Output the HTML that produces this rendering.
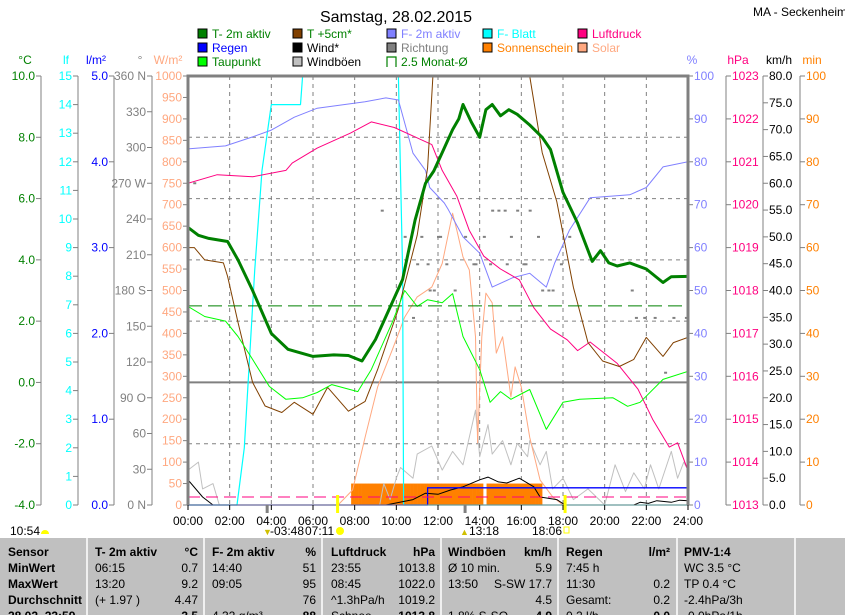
<!DOCTYPE html>
<html><head><meta charset="utf-8"><style>
html,body{margin:0;padding:0;background:#fff;width:845px;height:615px;overflow:hidden}
svg{display:block;font-family:"Liberation Sans",sans-serif}
.tb{font-family:"Liberation Sans",sans-serif;font-size:12px;fill:#000}
.b{font-weight:bold}
</style></head><body>
<svg id="chart" width="845" height="615" viewBox="0 0 845 615">
<defs><clipPath id="pc"><rect x="188" y="76" width="500" height="430"/></clipPath></defs>
<text x="396" y="22" font-size="16" text-anchor="middle">Samstag, 28.02.2015</text>
<text x="753" y="16" font-size="12">MA - Seckenheim</text>
<g id="legend"></g>
<g id="axes"></g>
<g id="grid"></g>
<g id="series" clip-path="url(#pc)"></g>
<g id="frame"></g>
<g id="xaxis"></g>
<g id="table"></g>
</svg>
<script>
// ---- data (time in hours) ----
const t2mTimes=[0,0.5,1,1.9,2.4,3.1,4.0,4.8,6.0,7.0,7.7,8.35,9.0,9.5,10.3,10.9,11.4,11.8,12.2,12.7,13.0,13.2,13.6,14.0,14.3,14.6,15.0,15.4,15.8,16.4,17.0,17.4,18.0,18.7,19.4,19.8,20.2,20.6,21.2,22.0,22.8,23.2,24];
const t2mVals=[5.06,4.8,4.7,4.6,4.0,3.0,1.6,1.08,0.85,0.9,0.88,0.7,1.4,2.15,3.36,5.3,6.5,6.9,7.5,8.25,8.6,9.07,8.5,8.0,8.9,9.07,8.7,8.9,8.75,8.4,8.0,7.6,6.2,5.2,3.95,4.3,3.9,3.8,3.9,3.7,3.26,3.45,3.46];
const t5Times=[0,0.3,0.8,1.7,1.9,2.4,3.1,3.7,4.5,5.1,6.0,6.7,7.7,8.5,9.1,10.1,11.0,11.5,11.8,12.5,14,16,16.4,17.0,17.7,18.5,19.2,19.9,20.7,21.4,22.0,22.8,23.3,24];
const t5Vals=[4.4,4.4,4.0,3.9,3.46,1.96,0,-0.77,-0.98,-0.65,-1.04,-0.16,-0.94,-0.62,0.42,2.4,4.8,7.0,10.5,13,14,13,10,7.5,5.9,3.1,1.3,0.7,0.52,0.75,1.47,0.85,1.3,1.47];
const dewTimes=[0,0.8,1.8,2.4,3.1,3.9,4.7,5.5,6.2,6.9,8.15,8.8,9.8,10.4,11.0,11.5,12.2,12.7,13.2,14.0,14.5,15.0,15.5,16.4,17.2,18.0,18.8,20.4,21.1,21.7,22.8,24];
const dewVals=[2.48,2.15,2.0,1.5,0.75,-0.13,-0.55,-0.5,-0.33,-0.07,-0.3,0.42,1.96,3.0,2.48,2.7,2.6,2.9,1.5,0.42,-0.65,-0.3,-0.55,-0.23,-1.53,-0.65,-0.55,-0.5,-0.78,-0.65,0.1,0.36];
const humTimes=[0,1.8,3.1,4.0,5.1,6.2,8.5,9.5,10.1,10.8,11.4,11.6,12.3,12.5,13.2,14.0,14.6,15.6,16.4,17.2,17.6,18.3,19.3,21.2,22.0,22.8,24];
const humVals=[83,83.7,85.8,87.4,90.4,92.5,94,94.9,94.4,82,78,74,70.4,68.8,62.5,58.7,50.8,53,54,50.8,56.4,64,71.6,72.3,74,78.8,80];
const presTimes=[0,1.4,3.1,4.7,5.0,6.2,7.8,8.8,9.9,10.9,11.7,12.2,12.9,13.5,14.2,15.0,15.9,16.6,17.4,18.2,18.7,19.3,20.6,21.6,22.3,23.1,23.5,24];
const presVals=[1020.5,1020.7,1020.65,1020.8,1020.97,1021.32,1021.67,1021.93,1021.8,1021.58,1021.4,1020.8,1020.2,1019.4,1018.8,1018.5,1018.25,1017.6,1017.1,1016.85,1016.6,1016.8,1016.3,1015.7,1015.0,1014.35,1014.45,1013.8];
const leafTimes=[0,2.35,2.7,3.2,3.55,4.0,5.4,5.5,10.1,10.3,10.35,24];
const leafVals=[0,0,2,8.2,11.7,14,14,15,15,8.2,0,0];
const solarTimes=[0,7.2,7.9,8.5,9.1,9.8,10.4,11.0,11.7,12.2,12.7,12.9,13.2,13.5,13.8,13.9,14.1,14.3,14.6,14.8,15.1,15.5,15.7,16.0,16.4,16.9,17.5,18.0,24];
const solarVals=[0,0,35,158,275,361,438,485,508,563,680,641,578,548,392,145,392,494,471,354,392,252,322,275,158,58,19,0,0];
const windTimes=[0,0.7,1.2,9.5,10.8,11.4,12.0,12.6,13.2,14.0,14.4,14.9,15.3,15.9,16.6,16.9,17.7,18.1,21.4,21.7,22.1,22.5,23.2,23.6,24];
const windVals=[4.7,1.5,0,0,1,2.2,2,2.8,3.4,4.7,5.2,4.3,4.1,5.0,3.4,1.5,1,0,0,0.5,0.3,0.8,0.5,0.9,0.8];
const gustTimes=[0,0.5,0.7,1.2,1.5,9.2,9.4,9.7,10.0,10.2,10.8,11.0,11.7,12.2,12.7,13.2,13.8,14.0,14.4,14.6,15.1,15.5,15.8,16.3,16.4,16.9,17.2,17.5,18.0,18.5,19.2,20.0,20.5,21.0,21.4,21.9,22.2,22.6,23.2,23.5,23.8,24];
const gustVals=[6.5,8,3,4,0,0,4,1,5,7,5,9.5,11,6.5,10,7.5,17.7,9,15,9.5,12,7.5,11.5,9,12,7.5,10,3,5,1,3,0,7.5,2.5,6,3,7.5,3,10,5,8,6.5];
const dirTimes=[0.3,9.3,10.4,10.8,11.0,11.2,11.5,11.8,12.1,11.6,12.0,12.4,12.8,13.3,13.7,14.2,14.6,14.9,15.2,15.5,15.8,16.1,16.4,16.8,17.0,17.3,17.5,17.9,18.3,21.3,21.5,21.9,22.4,22.9,23.3,23.9,13.8,14.5,15.3,16.2];
const dirVals=[270,247,225,157,202,225,202,180,225,180,225,202,180,225,202,225,247,247,247,225,247,202,247,225,180,180,180,202,225,180,157,157,157,111,157,157,202,202,202,202];
const rainTimes=[0,11.45,11.5,24];
const rainVals=[0,0,0.2,0.2];
const sunStart=7.83;
const sunMins=[5,5,5,5,5,5,5,5,5,5,5,5,5,5,5,5,5,5,5,5,5,5,5,5,5,5,5,5,5,5,5,5,5,5,5,5,5,5,0,5,5,5,5,5,5,5,5,5,5,5,5,5,5,5,5];
const xTickLabels=["00:00","02:00","04:00","06:00","08:00","10:00","12:00","14:00","16:00","18:00","20:00","22:00","24:00"];
const monthAvg=2.5;

// ---- scales ----
const X0=188,X1=688,Y0=76,Y1=505,H=Y1-Y0;
const xT=t=>X0+t/24*(X1-X0);
const lin=(lo,hi)=>v=>Y1-(v-lo)/(hi-lo)*H;
const yC=lin(-4,10),yP=lin(0,100),yH=lin(1013,1023),yW=lin(0,1000),yK=lin(0,80),yL=lin(0,15),yR=lin(0,5),yD=lin(0,360),yM=lin(0,100);
const NS="http://www.w3.org/2000/svg";
function mk(tag,attrs,parent){const e=document.createElementNS(NS,tag);for(const k in attrs)e.setAttribute(k,attrs[k]);parent.appendChild(e);return e;}
function txt(s,x,y,attrs,parent){const e=mk('text',Object.assign({x:x,y:y},attrs),parent);e.textContent=s;return e;}

// legend
const lg=document.getElementById('legend');
const legendItems=[["T- 2m aktiv","#008000",198,38],["Regen","#0000ff",198,52],["Taupunkt","#00ff00",198,66],
["T +5cm*","#804000",293,38],["Wind*","#000000",293,52],["Windböen","#c0c0c0",293,66],
["F- 2m aktiv","#8080ff",387,38],["Richtung","#808080",387,52],["2.5 Monat-Ø","none",387,66],
["F- Blatt","#00ffff",483,38],["Sonnenschein","#ff8000",483,52],["Luftdruck","#ff0080",578,38],["Solar","#ffa880",578,52]];
legendItems.forEach(it=>{
  const g=mk('g',{},lg);
  
  
  if(it[1]==='none'){mk('path',{d:`M${it[2]},${it[3]+1} V${it[3]-9} H${it[2]+9} V${it[3]+1}`,fill:'none',stroke:'#008000','stroke-width':1.2},g);}
  else mk('rect',{x:it[2],y:it[3]-9,width:9,height:9,fill:it[1],stroke:'#000'},g);
  const tc={"T- 2m aktiv":"#008000","Regen":"#0000ff","Taupunkt":"#008000","T +5cm*":"#008000","Wind*":"#000","Windböen":"#000","F- 2m aktiv":"#8080ff","Richtung":"#808080","2.5 Monat-Ø":"#008000","F- Blatt":"#00ffff","Sonnenschein":"#ff8000","Luftdruck":"#ff0080","Solar":"#ffa880"}[it[0]];
  txt(it[0],it[2]+14,it[3],{'font-size':12,fill:tc},g);
});

// axes
const ax=document.getElementById('axes');
function axis(lineX,side,ticks,fmt,scale,color,unit,unitX){
  mk('line',{x1:lineX,y1:Y0,x2:lineX,y2:Y1,stroke:'#808080'},ax);
  ticks.forEach(v=>{const y=scale(v);
    if(side==='L'){mk('line',{x1:lineX-5,y1:y,x2:lineX,y2:y,stroke:'#808080'},ax);txt(fmt(v),lineX-6,y+4,{'font-size':12,fill:color,'text-anchor':'end'},ax);}
    else{mk('line',{x1:lineX,y1:y,x2:lineX+5,y2:y,stroke:'#808080'},ax);txt(fmt(v),lineX+6,y+4,{'font-size':12,fill:color},ax);}
  });
  txt(unit,unitX,64,{'font-size':12,fill:color,'text-anchor':'middle'},ax);
}
const rng=(a,b,s)=>{const r=[];for(let v=a;v<=b+1e-9;v+=s)r.push(Math.round(v*100)/100);return r;};
axis(41,'L',rng(-4,10,2),v=>v.toFixed(1),yC,'#008000','°C',25);
axis(78,'L',rng(0,15,1),v=>String(v),yL,'#00ffff','lf',66);
axis(114,'L',rng(0,5,1),v=>v.toFixed(1),yR,'#0000ff','l/m²',96);
axis(152,'L',rng(0,360,30),v=>({0:'0  N',90:'90  O',180:'180 S',270:'270 W',360:'360 N'}[v]||String(v)),yD,'#808080','°',140);
axis(188,'L',rng(0,1000,50),v=>String(v),yW,'#ffa880','W/m²',168);
axis(688,'R',rng(0,100,10),v=>String(v),yP,'#8080ff','%',692);
axis(726,'R',rng(1013,1023,1),v=>String(v),yH,'#ff0080','hPa',738);
axis(763,'R',rng(0,80,5),v=>v.toFixed(1),yK,'#000000','km/h',779);
axis(800,'R',rng(0,100,10),v=>String(v),yM,'#ff8000','min',812);

// grid
const gr=document.getElementById('grid');
for(let h=2;h<24;h+=2)mk('line',{x1:xT(h),y1:Y0,x2:xT(h),y2:Y1,stroke:'#808080','stroke-dasharray':'4,4'},gr);
[8,6,4,2,-2].forEach(v=>mk('line',{x1:X0,y1:yC(v),x2:X1,y2:yC(v),stroke:'#808080','stroke-dasharray':'4,4'},gr));
mk('line',{x1:X0,y1:yC(0),x2:X1,y2:yC(0),stroke:'#808080','stroke-width':2},gr);

// series
const se=document.getElementById('series');
function line(ts,vs,scale,color,w,name,step){
  let d='';ts.forEach((t,i)=>{const x=xT(t),y=scale(vs[i]);
    if(i===0)d+=`M${x.toFixed(1)},${y.toFixed(1)}`;else if(step)d+=`H${x.toFixed(1)}V${y.toFixed(1)}`;else d+=`L${x.toFixed(1)},${y.toFixed(1)}`;});
  const p=mk('path',{d:d,fill:'none',stroke:color,'stroke-width':w,'stroke-linejoin':'round'},se);
  
  
}
// sunshine bars
sunMins.forEach((m,i)=>{if(!m)return;const t=sunStart+i/6;const r=mk('rect',{x:xT(t),y:yM(m),width:xT(t+1/6)-xT(t)+0.3,height:Y1-yM(m),fill:'#ff8000'},se);
  
  });
line(gustTimes,gustVals,yK,'#c0c0c0',1,'gust-line');
line(solarTimes,solarVals,yW,'#ffa880',1,'solar-line');
line(leafTimes,leafVals,yL,'#00ffff',1.2,'leaf-wetness-line');
line(humTimes,humVals,yP,'#8080ff',1,'humidity-line');
line(presTimes,presVals,yH,'#ff0080',1,'pressure-line');
line(t5Times,t5Vals,yC,'#804000',1,'temp-5cm-line');
line(dewTimes,dewVals,yC,'#00ff00',1,'dewpoint-line');
line(t2mTimes,t2mVals,yC,'#008000',3,'temp-2m-line');
line(windTimes,windVals,yK,'#000000',1,'wind-line');
line(rainTimes,rainVals,yR,'#0000ff',1.3,'rain-line',true);
dirTimes.forEach((t,i)=>{const r=mk('rect',{x:xT(t)-1,y:yD(dirVals[i])-1,width:3,height:2,fill:'#808080'},se);
  
  });
const ma=mk('line',{x1:X0,y1:yC(monthAvg),x2:X1,y2:yC(monthAvg),stroke:'#008000','stroke-dasharray':'14,6'},se);


mk('line',{x1:X0,y1:497,x2:X1,y2:497,stroke:'#ff0080','stroke-dasharray':'12,6'},se);

// frame
const fr=document.getElementById('frame');
mk('path',{d:`M${X0},${Y1}V${Y0}H${X1}V${Y1}`,fill:'none',stroke:'#808080','stroke-width':3},fr);
mk('line',{x1:X0,y1:Y1,x2:X1,y2:Y1,stroke:'#808080','stroke-width':1},fr);

// x axis
const xa=document.getElementById('xaxis');
xTickLabels.forEach((s,i)=>{const x=xT(i*2);mk('line',{x1:x,y1:Y1,x2:x,y2:Y1+5,stroke:'#000'},xa);txt(s,x,525,{'font-size':12,'text-anchor':'middle'},xa);});
mk('line',{x1:xT(3.8),y1:Y1,x2:xT(3.8),y2:Y1+8,stroke:'#808080','stroke-width':3},xa);
mk('line',{x1:xT(13.3),y1:Y1,x2:xT(13.3),y2:Y1+8,stroke:'#808080','stroke-width':3},xa);
mk('line',{x1:xT(7.18),y1:Y1-10,x2:xT(7.18),y2:Y1+8,stroke:'#ffff00','stroke-width':3},xa);
mk('line',{x1:xT(18.1),y1:Y1-10,x2:xT(18.1),y2:Y1+8,stroke:'#ffff00','stroke-width':3},xa);
txt('10:54',10,535,{'font-size':12},xa);
mk('path',{d:'M41,534a4,4 0 0 1 8,0z',fill:'#ffff00'},xa);
txt('▼',263,535,{'font-size':9,fill:'#d0c000'},xa);
txt('-03:48',270,535,{'font-size':12},xa);
txt('07:11',305,535,{'font-size':12},xa);
mk('circle',{cx:340,cy:531,r:4,fill:'#ffff00'},xa);
txt('▲',460,535,{'font-size':9,fill:'#d0c000'},xa);
txt('13:18',469,535,{'font-size':12},xa);
txt('18:06',532,535,{'font-size':12},xa);
mk('rect',{x:564,y:527,width:5,height:6,fill:'none',stroke:'#ffff00'},xa);

// table
const tb=document.getElementById('table');
mk('rect',{x:0,y:538,width:845,height:77,fill:'#c0c0c0'},tb);
[87,204,322,441,558,677,795].forEach(x=>mk('line',{x1:x,y1:538,x2:x,y2:615,stroke:'#f0f0f0','stroke-width':2},tb));
const rows=[556,572,588,604,620];
const cells=[
 [8,'Sensor',1],[8,'MinWert',1],[8,'MaxWert',1],[8,'Durchschnitt',1],[8,'28.02. 23:59',1],
];
cells.forEach((c,i)=>txt(c[1],c[0],rows[i],{class:'tb b'},tb));
function col(x0,x1,head,unit,left,right){
  txt(head,x0,rows[0],{class:'tb b'},tb);txt(unit,x1,rows[0],{class:'tb b','text-anchor':'end'},tb);
  left.forEach((s,i)=>txt(s,x0+(s.startsWith(' ')?0:0),rows[i+1],{class:'tb'},tb));
  right.forEach((s,i)=>txt(s,x1,rows[i+1],{class:'tb'+(i===3?' b':''),'text-anchor':'end'},tb));
}
col(95,198,'T- 2m aktiv','°C',['  06:15','  13:20','  (+ 1.97 )',''],['0.7','9.2','4.47','3.5']);
col(212,316,'F- 2m aktiv','%',['  14:40','  09:05','','4.32 g/m³'],['51','95','76','88']);
col(331,435,'Luftdruck','hPa',['  23:55','  08:45','^1.3hPa/h','Schnee'],['1013.8','1022.0','1019.2','1013.8']);
col(448,552,'Windböen','km/h',['Ø 10 min.','  13:50','','1.8% S-SO'],['5.9','S-SW 17.7','4.5','4.9']);
col(566,670,'Regen','l/m²',['7:45 h','  11:30','Gesamt:','0.2 l/h'],['','0.2','0.2','0.0']);
col(684,790,'PMV-1:4','',['WC 3.5 °C','TP 0.4 °C','-2.4hPa/3h','-0.0hPa/1h'],['','','','']);
</script>
</body></html>
